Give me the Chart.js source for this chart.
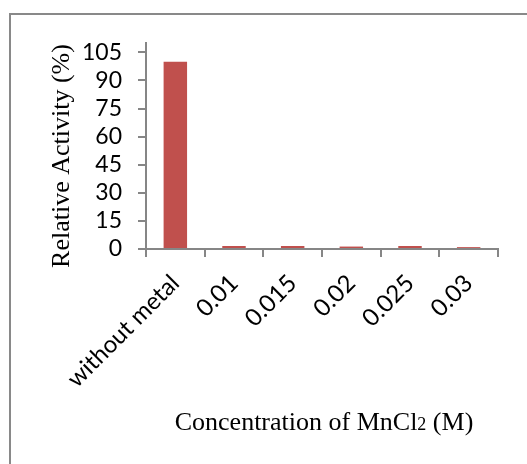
<!DOCTYPE html>
<html>
<head>
<meta charset="utf-8">
<script src="https://cdn.jsdelivr.net/npm/chart.js@4.4.1/dist/chart.umd.min.js"></script>
<style>
  html, body { margin: 0; padding: 0; background: #fff; }
  #wrap { position: relative; width: 527px; height: 464px; overflow: hidden; }
  #frame { position: absolute; left: 9px; top: 13px; width: 600px; height: 500px;
           border-left: 2px solid #898989; border-top: 2px solid #898989; }
  #myChart { position: absolute; left: 0; top: 0; }
</style>
</head>
<body>
<div id="wrap">
  <div id="frame"></div>
  <canvas id="myChart" width="527" height="464"></canvas>
</div>
<script>
const categories = ["without metal", "0.01", "0.015", "0.02", "0.025", "0.03"];
const activity = [100, 1.6, 1.6, 1.3, 1.6, 1.0];
const yTicks = [0, 15, 30, 45, 60, 75, 90, 105];
const yTitle = "Relative Activity (%)";
const xTitleMain = "Concentration of MnCl";
const xTitleSub = "2";
const xTitleEnd = " (M)";

const axisColor = "#868686";
const serif = '"Liberation Serif", "Times New Roman", serif';

// axis titles drawn by hand: the "2" is smaller and the y title sits a bit low, like the original
const titlesPlugin = {
    id: 'titles',
    afterDraw: function(chart) {
        const ctx = chart.ctx;
        const area = chart.chartArea;
        const big = '26px ' + serif;
        const small = '18px ' + serif;
        ctx.save();
        ctx.fillStyle = '#000';

        // x title
        ctx.textBaseline = 'alphabetic';
        ctx.textAlign = 'left';
        ctx.font = big;
        const w1 = ctx.measureText(xTitleMain).width;
        const w3 = ctx.measureText(xTitleEnd).width;
        ctx.font = small;
        const w2 = ctx.measureText(xTitleSub).width;
        let x = (area.left + area.right) / 2 + 2 - (w1 + w2 + w3) / 2;
        const y = 430;
        ctx.font = big;
        ctx.fillText(xTitleMain, x, y);
        x += w1;
        ctx.font = small;
        ctx.fillText(xTitleSub, x, y);
        x += w2;
        ctx.font = big;
        ctx.fillText(xTitleEnd, x, y);

        // y title
        ctx.translate(62, 156);
        ctx.rotate(-Math.PI / 2);
        ctx.textAlign = 'center';
        ctx.textBaseline = 'middle';
        ctx.font = big;
        ctx.fillText(yTitle, 0, 0);
        ctx.restore();
    }
};

new Chart(document.getElementById("myChart"), {
    type: 'bar',
    data: {
        labels: categories,
        datasets: [{
            data: activity,
            backgroundColor: "#C0504D",
            borderWidth: 0,
            barPercentage: 0.4,
            categoryPercentage: 1
        }]
    },
    plugins: [titlesPlugin],
    options: {
        responsive: false,
        animation: false,
        layout: { padding: { left: 0, top: 43, right: 29, bottom: 0 } },
        plugins: { legend: { display: false }, tooltip: { enabled: false } },
        scales: {
            x: {
                afterFit: (s) => { s.height = 215; },
                border: { display: true, color: axisColor, width: 2 },
                grid: { drawOnChartArea: false, drawTicks: true, tickLength: 8, color: axisColor, lineWidth: 2, offset: true },
                ticks: {
                    color: '#000',
                    font: { family: 'Lato', size: 24 },
                    minRotation: 45, maxRotation: 45,
                    padding: 12,
                    autoSkip: false
                }
            },
            y: {
                min: 0,
                max: 110,
                afterFit: (s) => { s.width = 146; },
                afterBuildTicks: (s) => { s.ticks = yTicks.map(v => ({ value: v })); },
                border: { display: true, color: axisColor, width: 2 },
                grid: { drawOnChartArea: false, drawTicks: true, tickLength: 8, color: axisColor, lineWidth: 2 },
                ticks: {
                    color: '#000',
                    font: { family: 'Lato', size: 23 },
                    padding: 16,
                    autoSkip: false
                }
            }
        }
    }
});
</script>
</body>
</html>
